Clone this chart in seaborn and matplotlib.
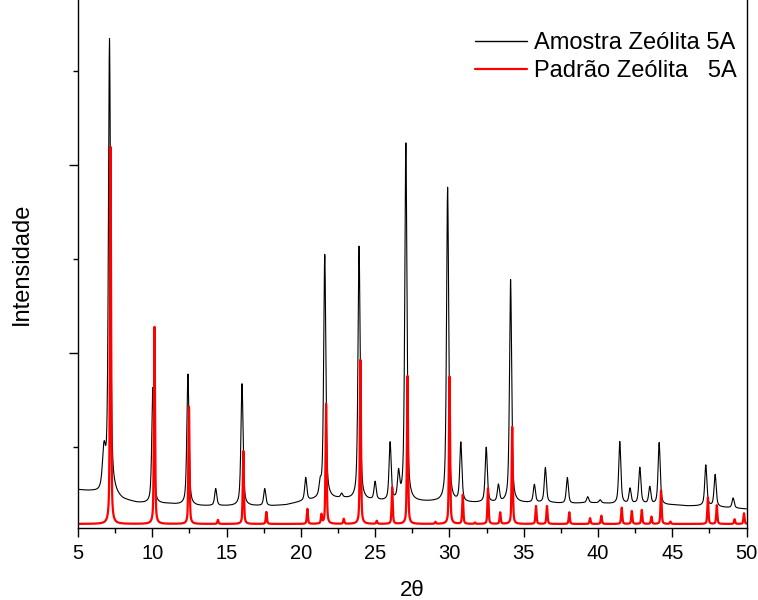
import numpy as np
import pandas as pd
import matplotlib
matplotlib.use("Agg")
import matplotlib.pyplot as plt
from matplotlib.ticker import FixedLocator
import seaborn as sns

# ---------------- data ----------------
series_names = ["Amostra Zeólita 5A", "Padrão Zeólita   5A"]

# sample (black) pattern: peak positions (2θ) and heights above background
sample_pos = [6.75, 7.12, 10.04, 12.40, 14.27, 16.04, 17.57, 20.33, 21.30, 21.61,
              22.75, 23.92, 25.00, 26.01, 26.58, 27.07, 29.88, 30.77, 32.48, 33.30,
              34.12, 35.72, 36.46, 37.94, 39.31, 40.15, 41.47, 42.16, 42.82, 43.49,
              44.12, 47.26, 47.89, 49.10]
sample_amp = [420, 4830, 1234, 1394, 181, 1298, 181, 245, 128, 2596,
              43, 2702, 191, 617, 277, 3808, 3351, 628, 585, 181,
              2372, 191, 372, 277, 64, 32, 660, 160, 383, 181,
              660, 436, 340, 106]
# sample background
bg_pos = [5, 6, 6.5, 7.5, 8, 9, 10, 11, 12, 13, 14, 15, 16, 17, 18, 19, 20, 21, 22,
          23, 24, 25, 26, 27, 28, 29, 30, 31, 32, 33, 34, 35, 36, 37, 38, 39, 40,
          41, 42, 43, 44, 45, 46, 47, 48, 49, 50]
bg_val = [543, 521, 500, 479, 436, 404, 394, 394, 383, 372, 372, 372, 372, 372, 372,
          383, 415, 436, 447, 447, 426, 426, 415, 415, 415, 415, 404, 404, 404, 404,
          404, 404, 404, 404, 394, 404, 404, 394, 394, 394, 383, 383, 372, 372, 362,
          351, 340]

# reference (red) pattern
ref_pos = [7.19, 10.15, 12.47, 14.42, 16.13, 17.68, 20.44, 21.39, 21.70, 22.89,
           24.01, 25.11, 26.15, 27.18, 29.06, 30.01, 30.90, 31.72, 32.60, 33.42,
           34.23, 35.83, 36.57, 38.07, 39.47, 40.23, 41.60, 42.28, 42.95, 43.60,
           44.25, 44.88, 47.40, 48.00, 49.20, 49.83]
ref_amp = [4011, 2096, 1245, 43, 777, 128, 160, 96, 1277, 53,
           1745, 32, 388, 1574, 21, 1567, 309, 14, 378, 122,
           1032, 191, 191, 124, 61, 88, 173, 138, 149, 78,
           354, 24, 280, 199, 50, 114]
ref_base = 181

x_ticks = [5, 10, 15, 20, 25, 30, 35, 40, 45, 50]

# ---------------- build profiles ----------------
tt = np.round(np.arange(5.0, 50.0001, 0.01), 3)

def pv(x, c, fwhm, eta):
    hw = fwhm / 2.0
    lor = 1.0 / (1.0 + ((x - c) / hw) ** 2)
    gau = np.exp(-np.log(2) * ((x - c) / hw) ** 2)
    return eta * lor + (1 - eta) * gau

black = np.interp(tt, bg_pos, bg_val).astype(float)
for c, a in zip(sample_pos, sample_amp):
    w = 0.25 if c < 7.0 else 0.17
    black += a * pv(tt, c, w, 0.6)

red = np.full_like(tt, ref_base, dtype=float)
for c, a in zip(ref_pos, ref_amp):
    red += a * pv(tt, c, 0.09, 0.5)

df_black = pd.DataFrame({"2θ": tt, "I": black})
df_red = pd.DataFrame({"2θ": tt, "I": red})

# ---------------- plot ----------------
sns.set_style("ticks")
plt.rcParams["font.family"] = ["Liberation Sans", "DejaVu Sans"]
plt.rcParams["text.color"] = "black"
plt.rcParams["axes.labelcolor"] = "black"
plt.rcParams["xtick.color"] = "black"
plt.rcParams["ytick.color"] = "black"

fig = plt.figure(figsize=(7.58, 6.0), dpi=100)
ax = fig.add_axes([78 / 758, 72 / 600, (746.5 - 78) / 758, 528 / 600])

sns.lineplot(data=df_black, x="2θ", y="I", color="black", linewidth=0.8,
             estimator=None, ax=ax, label=series_names[0])
sns.lineplot(data=df_red, x="2θ", y="I", color="#ff0000", linewidth=1.6,
             estimator=None, ax=ax, label=series_names[1])

ax.set_xlim(5, 50)
ax.set_ylim(138, 5755)
ax.set_xticks(x_ticks)
ax.set_xticklabels([str(v) for v in x_ticks])
ax.xaxis.set_minor_locator(FixedLocator([v + 2.5 for v in x_ticks[:-1]]))
ax.set_yticks([2000, 4000])
ax.set_yticklabels([])
ax.yaxis.set_minor_locator(FixedLocator([1000, 3000, 5000]))

ax.tick_params(axis="both", which="major", direction="out", length=6.5, width=1.0,
               labelsize=14.5, color="black", labelcolor="black", pad=5)
ax.tick_params(axis="both", which="minor", direction="out", length=3.8, width=1.0,
               color="black")
ax.tick_params(axis="y", which="both", labelleft=False)

for s in ["left", "bottom", "right"]:
    ax.spines[s].set_linewidth(1.0)
    ax.spines[s].set_color("black")
ax.spines["top"].set_visible(False)

ax.set_xlabel("2θ", fontsize=16, labelpad=12, color="black")
ax.set_ylabel("Intensidade", fontsize=17, labelpad=26, color="black")

leg = ax.legend(loc="upper right", bbox_to_anchor=(1.0, 0.957), frameon=False,
                fontsize=17, handlelength=2.2, handletextpad=0.3,
                labelspacing=0.25, borderaxespad=0.2, borderpad=0.2)
for t in leg.get_texts():
    t.set_color("black")
for line in leg.get_lines():
    line.set_linewidth(1.0 if line.get_color() == "black" else 1.6)

fig.savefig("out.png", dpi=100)
